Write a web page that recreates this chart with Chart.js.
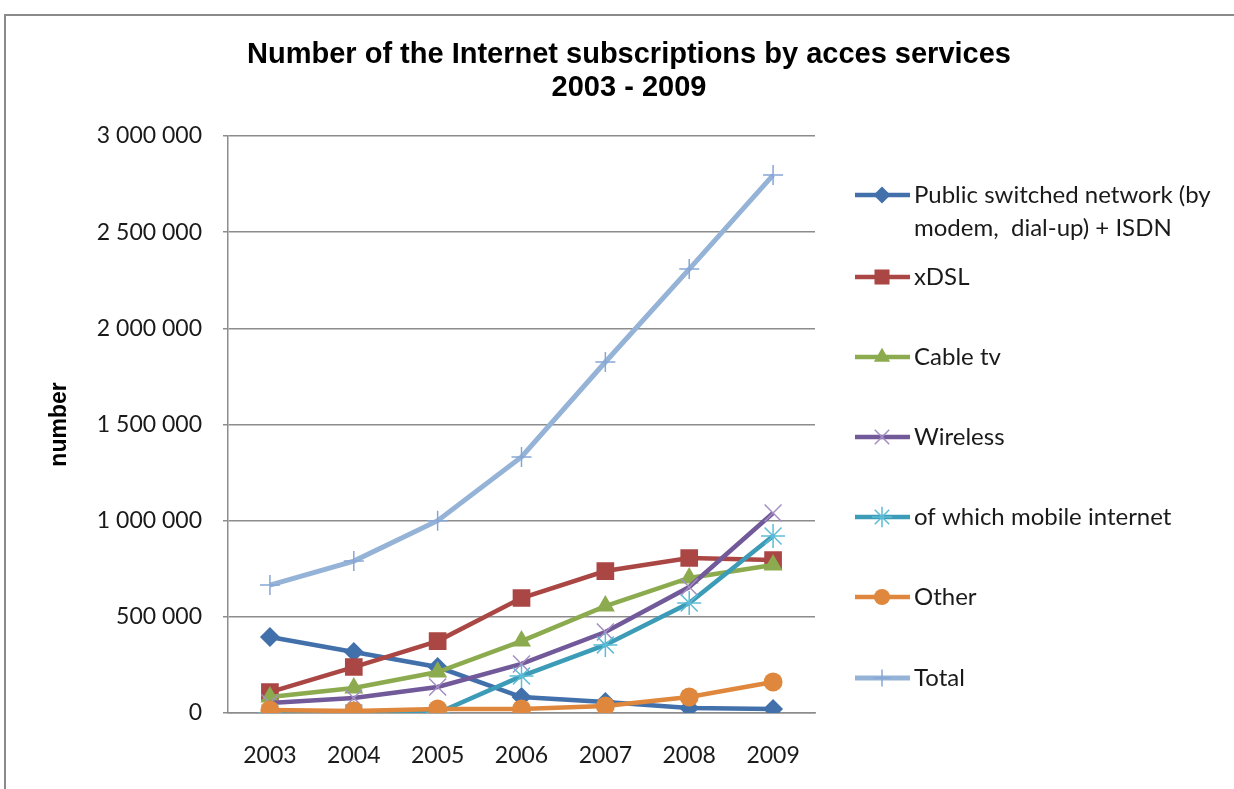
<!DOCTYPE html>
<html>
<head>
<meta charset="utf-8">
<script src="https://cdn.jsdelivr.net/npm/chart.js@4.4.0/dist/chart.umd.min.js"></script>
<style>
  html, body { margin: 0; padding: 0; background: #fff; }
  canvas { display: block; }
</style>
</head>
<body>
<canvas id="subsChart" width="1234" height="789"></canvas>
<script>
// subscriptions by access service, 2003 - 2009
const years = ['2003', '2004', '2005', '2006', '2007', '2008', '2009'];
const publicSwitched = [395000, 317000, 239000, 83000, 57000, 26000, 21000];
const xdsl = [109000, 239000, 374000, 598000, 738000, 806000, 795000];
const cableTv = [83000, 130000, 213000, 374000, 556000, 702000, 769000];
const wireless = [52000, 78000, 135000, 255000, 421000, 655000, 1040000];
const mobileInternet = [0, 0, 0, 192000, 354000, 572000, 920000];
const other = [16000, 10000, 21000, 21000, 36000, 83000, 161000];
const total = [665000, 790000, 1000000, 1331000, 1825000, 2308000, 2797000];

const seriesNames = [
  ['Public switched network (by', 'modem,  dial-up) + ISDN'],
  ['xDSL'],
  ['Cable tv'],
  ['Wireless'],
  ['of which mobile internet'],
  ['Other'],
  ['Total']
];
const titleLines = ['Number of the Internet subscriptions by acces services', '2003 - 2009'];
const yTitle = 'number';

const tickFont = { family: 'Lato', size: 23 };

function series(i, data, line, marker, style, radius, width) {
  return {
    label: seriesNames[i].join(' '),
    data: data,
    borderColor: line,
    backgroundColor: marker,
    pointBackgroundColor: marker,
    pointBorderColor: marker,
    pointStyle: style,
    pointRadius: radius,
    pointHoverRadius: radius,
    pointBorderWidth: (style === 'crossRot' || style === 'star' || style === 'cross') ? 1.5 : 0,
    borderWidth: width || 4.5,
    tension: 0,
    order: 7 - i
  };
}

// frame, title and the legend on the right
const decor = {
  id: 'decor',
  beforeDraw(chart) {
    const ctx = chart.ctx;
    ctx.save();
    ctx.strokeStyle = '#8a8a8a';
    ctx.lineWidth = 2;
    ctx.beginPath();
    ctx.moveTo(5, chart.height);
    ctx.lineTo(5, 15);
    ctx.lineTo(chart.width, 15);
    ctx.stroke();
    ctx.restore();
  },
  afterDraw(chart) {
    const ctx = chart.ctx;
    ctx.save();
    ctx.fillStyle = '#000';
    ctx.font = 'bold 29px "Liberation Sans", Arial, sans-serif';
    ctx.textAlign = 'center';
    ctx.textBaseline = 'middle';
    ctx.fillText(titleLines[0], 629, 55);
    ctx.fillText(titleLines[1], 629, 88);

    const rows = [195, 277, 357, 437, 517, 597, 678];
    ctx.font = '24px Lato, sans-serif';
    ctx.textAlign = 'left';
    chart.data.datasets.forEach((ds, i) => {
      const y = rows[i];
      ctx.strokeStyle = ds.borderColor;
      ctx.lineWidth = ds.borderWidth;
      ctx.beginPath();
      ctx.moveTo(855, y);
      ctx.lineTo(910, y);
      ctx.stroke();
      ctx.fillStyle = ds.pointBackgroundColor;
      ctx.strokeStyle = ds.pointBorderColor;
      ctx.lineWidth = ds.pointBorderWidth;
      Chart.helpers.drawPoint(ctx, {
        pointStyle: ds.pointStyle,
        radius: ds.pointRadius * 0.85,
        borderWidth: ds.pointBorderWidth,
        rotation: 0
      }, 882, y);
      ctx.fillStyle = '#1a1a1a';
      seriesNames[i].forEach((t, k) => ctx.fillText(t, 914, y + k * 33));
    });
    ctx.restore();
  }
};

new Chart(document.getElementById('subsChart'), {
  type: 'line',
  data: {
    labels: years,
    datasets: [
      series(0, publicSwitched, '#4170aa', '#4170aa', 'rectRot', 10),
      series(1, xdsl, '#aa4643', '#aa4643', 'rect', 12.5),
      series(2, cableTv, '#8cab4f', '#8cab4f', 'triangle', 11),
      series(3, wireless, '#72599a', '#a38fc4', 'crossRot', 12),
      series(4, mobileInternet, '#3c9bb6', '#5cbcd6', 'star', 12),
      series(5, other, '#df883d', '#df883d', 'circle', 9.5),
      series(6, total, '#95b3d7', '#87a6d6', 'cross', 10, 5)
    ]
  },
  options: {
    responsive: false,
    animation: false,
    events: [],
    layout: { padding: { left: 40, right: 419, top: 136, bottom: 0 } },
    plugins: {
      legend: { display: false },
      title: { display: false },
      tooltip: { enabled: false }
    },
    scales: {
      x: {
        offset: true,
        grid: { display: false, drawTicks: false, offset: true },
        border: { display: true, color: '#8c8c8c', width: 1.5 },
        ticks: { font: tickFont, color: '#1a1a1a', padding: 29, maxRotation: 0 },
        afterFit(scale) { scale.height = 76; }
      },
      y: {
        min: 0,
        max: 3000000,
        grid: { color: '#8c8c8c', lineWidth: 1.5, tickLength: 5 },
        border: { display: true, color: '#8c8c8c', width: 1.5 },
        ticks: {
          stepSize: 500000,
          font: tickFont,
          color: '#1a1a1a',
          padding: 21,
          callback: v => v.toLocaleString('en-US').replace(/,/g, ' ')
        },
        title: {
          display: true,
          text: yTitle,
          font: { family: '"Liberation Sans", Arial, sans-serif', size: 23, weight: 'bold' },
          color: '#000',
          padding: { top: 6, bottom: 0 }
        },
        afterFit(scale) { scale.width = 188; }
      }
    }
  },
  plugins: [decor]
});
</script>
</body>
</html>
